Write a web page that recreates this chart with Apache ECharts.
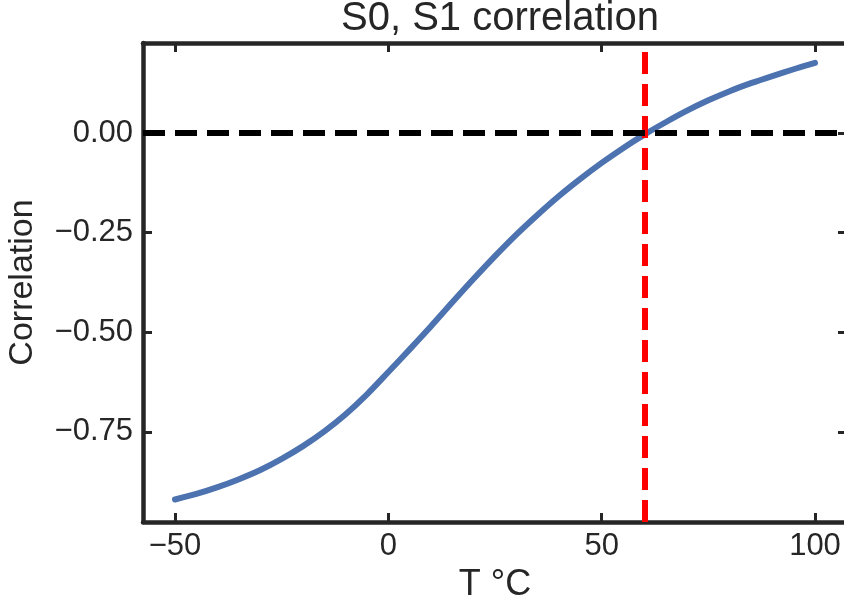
<!DOCTYPE html>
<html>
<head>
<meta charset="utf-8">
<script src="https://cdn.jsdelivr.net/npm/echarts@6/dist/echarts.min.js"></script>
<style>
html,body{margin:0;padding:0;background:#fff;}
#chart{width:844px;height:599px;}
</style>
</head>
<body>
<div id="chart"></div>
<script>
// Data
const temps = [-50,-45,-40,-35,-30,-25,-20,-15,-10,-5,0,5,10,15,20,25,30,35,40,45,50,55,60,65,70,75,80,85,90,95,100];
const corr = [-0.920,-0.906,-0.889,-0.869,-0.846,-0.818,-0.786,-0.749,-0.706,-0.656,-0.600,-0.543,-0.485,-0.425,-0.366,-0.309,-0.255,-0.205,-0.158,-0.115,-0.075,-0.038,-0.004,0.027,0.056,0.082,0.105,0.125,0.143,0.160,0.176];
const xTicks = [-50, 0, 50, 100];
const xTickLabels = ['\u221250', '0', '50', '100'];
const yTicks = [0, -0.25, -0.5, -0.75];
const yTickLabels = ['0.00', '\u22120.25', '\u22120.50', '\u22120.75'];
const refTemp = [60];
const refCorr = [0];
const titleText = 'S0, S1 correlation';
const xName = 'T \u00B0C';
const yName = 'Correlation';

const FONT = '"Liberation Sans", Arial, sans-serif';
const INK = '#262626';

const chart = echarts.init(document.getElementById('chart'), null, {renderer: 'canvas'});

function labelFor(ticks, labels) {
  return function (v) {
    for (let i = 0; i < ticks.length; i++) {
      if (Math.abs(ticks[i] - v) < 1e-9) return labels[i];
    }
    return '';
  };
}

const spine = {show: true, onZero: false, lineStyle: {color: INK, width: 4.5}};
const tick = (vals) => ({show: true, inside: true, length: 9, customValues: vals, lineStyle: {color: INK, width: 3}});

const option = {
  animation: false,
  backgroundColor: '#ffffff',
  title: {
    text: titleText,
    left: 495,
    textAlign: 'center',
    top: -6,
    textStyle: {fontFamily: FONT, fontSize: 40, fontWeight: 'normal', color: INK}
  },
  grid: {left: 143, right: -3, top: 43, bottom: 77, containLabel: false, outerBoundsMode: 'none'},
  xAxis: [
    {
      type: 'value', position: 'bottom', min: -57.5, max: 107.5,
      axisLine: spine, axisTick: tick(xTicks),
      axisLabel: {show: true, customValues: xTicks, formatter: labelFor(xTicks, xTickLabels),
        margin: 9, fontFamily: FONT, fontSize: 31, color: INK},
      splitLine: {show: false},
      name: xName, nameLocation: 'middle', nameGap: 44,
      nameTextStyle: {fontFamily: FONT, fontSize: 36, color: INK}
    },
    {
      type: 'value', position: 'top', min: -57.5, max: 107.5,
      axisLine: spine, axisTick: tick(xTicks),
      axisLabel: {show: false}, splitLine: {show: false}
    }
  ],
  yAxis: [
    {
      type: 'value', position: 'left', min: -0.9764, max: 0.2259,
      axisLine: spine, axisTick: tick(yTicks),
      axisLabel: {show: true, customValues: yTicks, formatter: labelFor(yTicks, yTickLabels),
        margin: 10, fontFamily: FONT, fontSize: 31, color: INK},
      splitLine: {show: false},
      name: yName, nameLocation: 'middle', nameGap: 103,
      nameTextStyle: {fontFamily: FONT, fontSize: 34, color: INK}
    },
    {
      type: 'value', position: 'right', min: -0.9764, max: 0.2259,
      axisLine: spine, axisTick: tick(yTicks),
      axisLabel: {show: false}, splitLine: {show: false}
    }
  ],
  series: [
    {
      type: 'line', xAxisIndex: 0, yAxisIndex: 0, z: 2,
      data: temps.map((t, i) => [t, corr[i]]),
      showSymbol: false, symbol: 'none', smooth: 0.3,
      lineStyle: {color: '#4C72B0', width: 6, cap: 'round', join: 'round'}
    },
    {
      type: 'line', xAxisIndex: 0, yAxisIndex: 0, z: 3, data: [],
      markLine: {
        silent: true, symbol: ['none', 'none'], label: {show: false},
        lineStyle: {color: '#ff0000', width: 6, type: [22, 10], cap: 'butt'},
        data: refTemp.map(v => ({xAxis: v}))
      }
    },
    {
      type: 'line', xAxisIndex: 0, yAxisIndex: 0, z: 4, data: [],
      markLine: {
        silent: true, symbol: ['none', 'none'], label: {show: false},
        lineStyle: {color: '#000000', width: 6, type: [22, 10], cap: 'butt'},
        data: refCorr.map(v => ({yAxis: v}))
      }
    }
  ]
};
chart.setOption(option);
</script>
</body>
</html>
